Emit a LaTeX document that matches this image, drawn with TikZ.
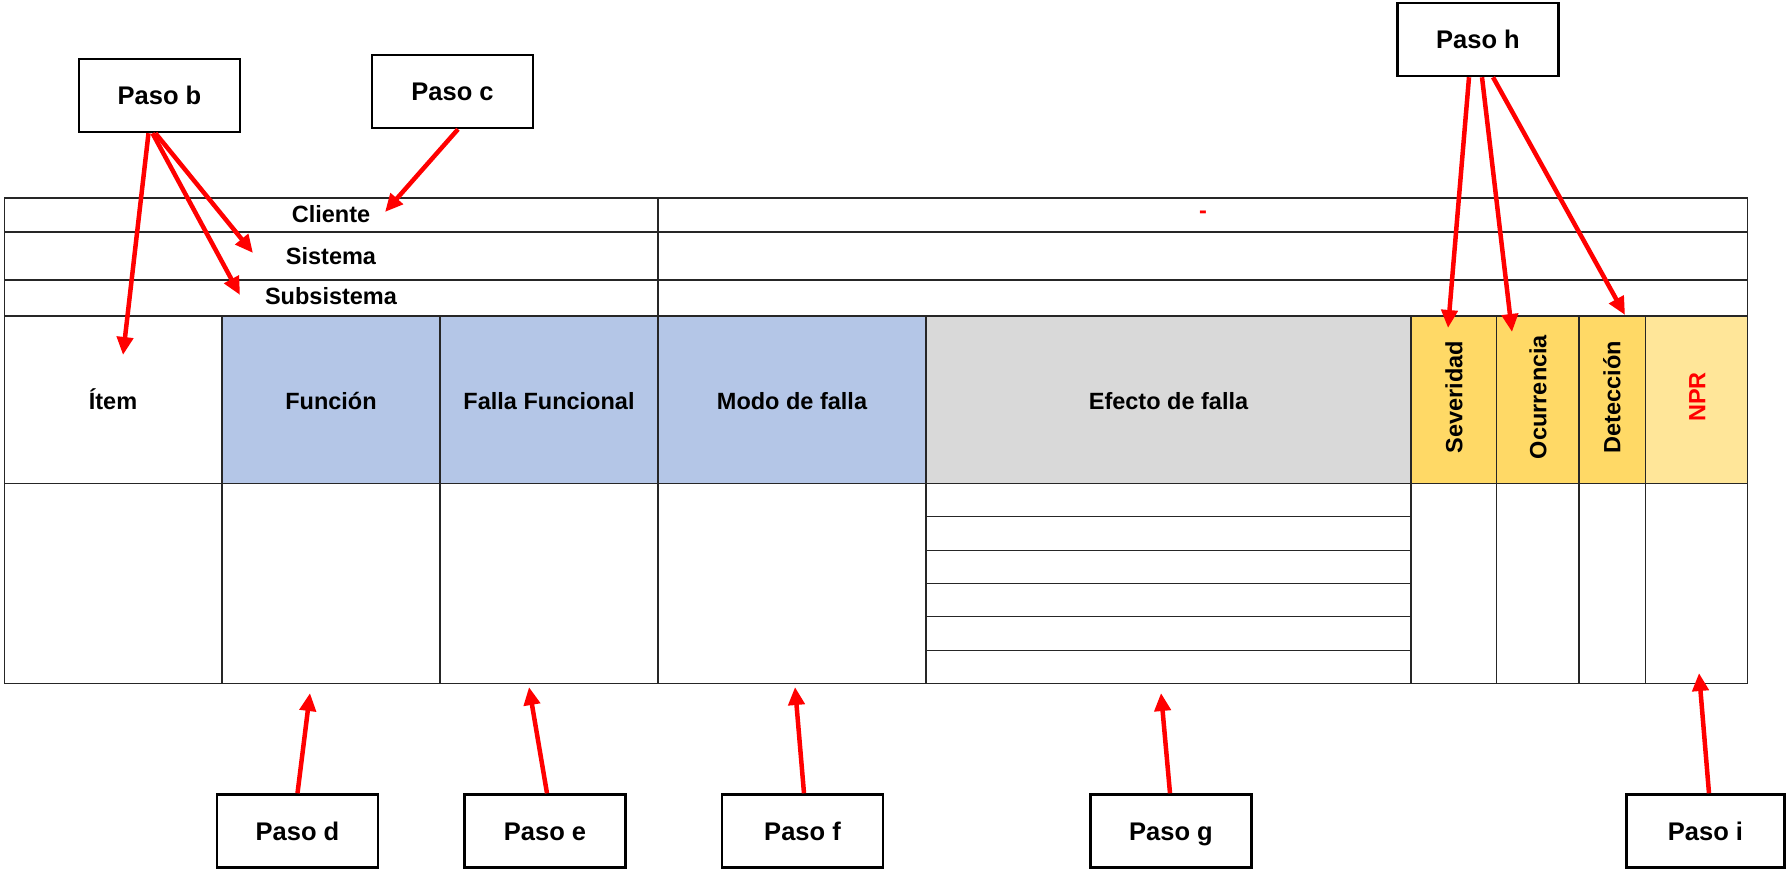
\documentclass[tikz,border=0pt]{standalone}
\usepackage{fontspec}
\setmainfont{Liberation Sans}
\usetikzlibrary{arrows.meta}
\definecolor{hblue}{HTML}{B4C6E7}
\definecolor{hgray}{HTML}{D9D9D9}
\definecolor{hyel}{HTML}{FFD966}
\definecolor{hyell}{HTML}{FFE699}
\begin{document}
\begin{tikzpicture}[x=1pt,y=-1pt,
  gridline/.style={draw=black!85, line width=1.2pt},
  hdr/.style={font=\fontsize{23.5}{28}\selectfont\bfseries, inner sep=0pt, text height=16.8pt, text depth=0pt},
  pasobox/.style={draw=black, line width=2.5pt, fill=white, inner sep=0pt,
    font=\fontsize{25.5}{30}\selectfont\bfseries, text height=18.3pt, text depth=0pt,
    minimum width=161pt, minimum height=73pt},
  redarrow/.style={draw=red, line width=4.5pt, -{Triangle[length=18pt,width=16pt]}}]
\useasboundingbox (0,0) rectangle (1787,869);
% fills
\fill[hblue] (222,316) rectangle (926,483.5);
\fill[hgray] (926,316) rectangle (1411,483.5);
\fill[hyel] (1411,316) rectangle (1645.5,483.5);
\fill[hyell] (1645.5,316) rectangle (1747.5,483.5);
% grid
\draw[gridline] (4.5,198) rectangle (1747.5,683.5);
\draw[gridline] (4.5,232) -- (1747.5,232);
\draw[gridline] (4.5,280) -- (1747.5,280);
\draw[gridline] (4.5,316) -- (1747.5,316);
\draw[gridline] (4.5,483.5) -- (1747.5,483.5);
\draw[gridline] (658,198) -- (658,683.5);
\foreach \xx in {222,440,926,1411,1496.5,1579,1645.5}
  \draw[gridline] (\xx,316) -- (\xx,683.5);
\foreach \k in {1,...,5}
  \draw[gridline] (926,483.5+33.33*\k) -- (1411,483.5+33.33*\k);
% text
\node[hdr] (cliente) at (331,214) {Cliente};
\node[hdr] (sistema) at (331,256) {Sistema};
\node[hdr] (subsistema) at (331,296) {Subsistema};
\node[hdr, text=red, text height=9pt] (dash) at (1203,214) {-};
\node[hdr] (item) at (113,401) {Ítem};
\node[hdr] (funcion) at (331,401) {Función};
\node[hdr] (falla) at (549,401) {Falla Funcional};
\node[hdr] (modo) at (792,401) {Modo de falla};
\node[hdr] (efecto) at (1168.5,401) {Efecto de falla};
\node[hdr, rotate=90] (sev) at (1454,397) {Severidad};
\node[hdr, rotate=90] (ocu) at (1538,397) {Ocurrencia};
\node[hdr, rotate=90] (det) at (1612,397) {Detección};
\node[hdr, rotate=90, text=red] (npr) at (1697,397) {NPR};
% paso boxes
\node[pasobox] (pb) at (159.5,95.5) {Paso b};
\node[pasobox] (pc) at (452.5,91.5) {Paso c};
\node[pasobox] (ph) at (1478,39.5) {Paso h};
\node[pasobox] (pd) at (297.5,831) {Paso d};
\node[pasobox] (pe) at (545,831) {Paso e};
\node[pasobox] (pf) at (802.5,831) {Paso f};
\node[pasobox] (pg) at (1171,831) {Paso g};
\node[pasobox, minimum width=158pt] (pi) at (1705.5,831) {Paso i};
% arrow tips
\coordinate (tItem) at (123,355);
\coordinate (tSis) at (253,253);
\coordinate (tSub) at (240,295);
\coordinate (tCli) at (385,212);
\coordinate (tSev) at (1448,328);
\coordinate (tOcu) at (1512,332);
\coordinate (tDet) at (1625,315);
\coordinate (tD) at (310,693);
\coordinate (tE) at (529,687);
\coordinate (tF) at (795,687);
\coordinate (tG) at (1161,693);
\coordinate (tI) at (1699,673);
% arrows
\draw[redarrow] ([xshift=-11pt]pb.south) -- (tItem);
\draw[redarrow] ([xshift=-4pt]pb.south) -- (tSis);
\draw[redarrow] ([xshift=-7pt]pb.south) -- (tSub);
\draw[redarrow] ([xshift=5.5pt]pc.south) -- (tCli);
\draw[redarrow] ([xshift=-9pt]ph.south) -- (tSev);
\draw[redarrow] ([xshift=4pt]ph.south) -- (tOcu);
\draw[redarrow] ([xshift=15pt]ph.south) -- (tDet);
\draw[redarrow] (pd.north) -- (tD);
\draw[redarrow] ([xshift=2pt]pe.north) -- (tE);
\draw[redarrow] ([xshift=1.5pt]pf.north) -- (tF);
\draw[redarrow] ([xshift=-1pt]pg.north) -- (tG);
\draw[redarrow] ([xshift=3.5pt]pi.north) -- (tI);
\end{tikzpicture}
\end{document}
